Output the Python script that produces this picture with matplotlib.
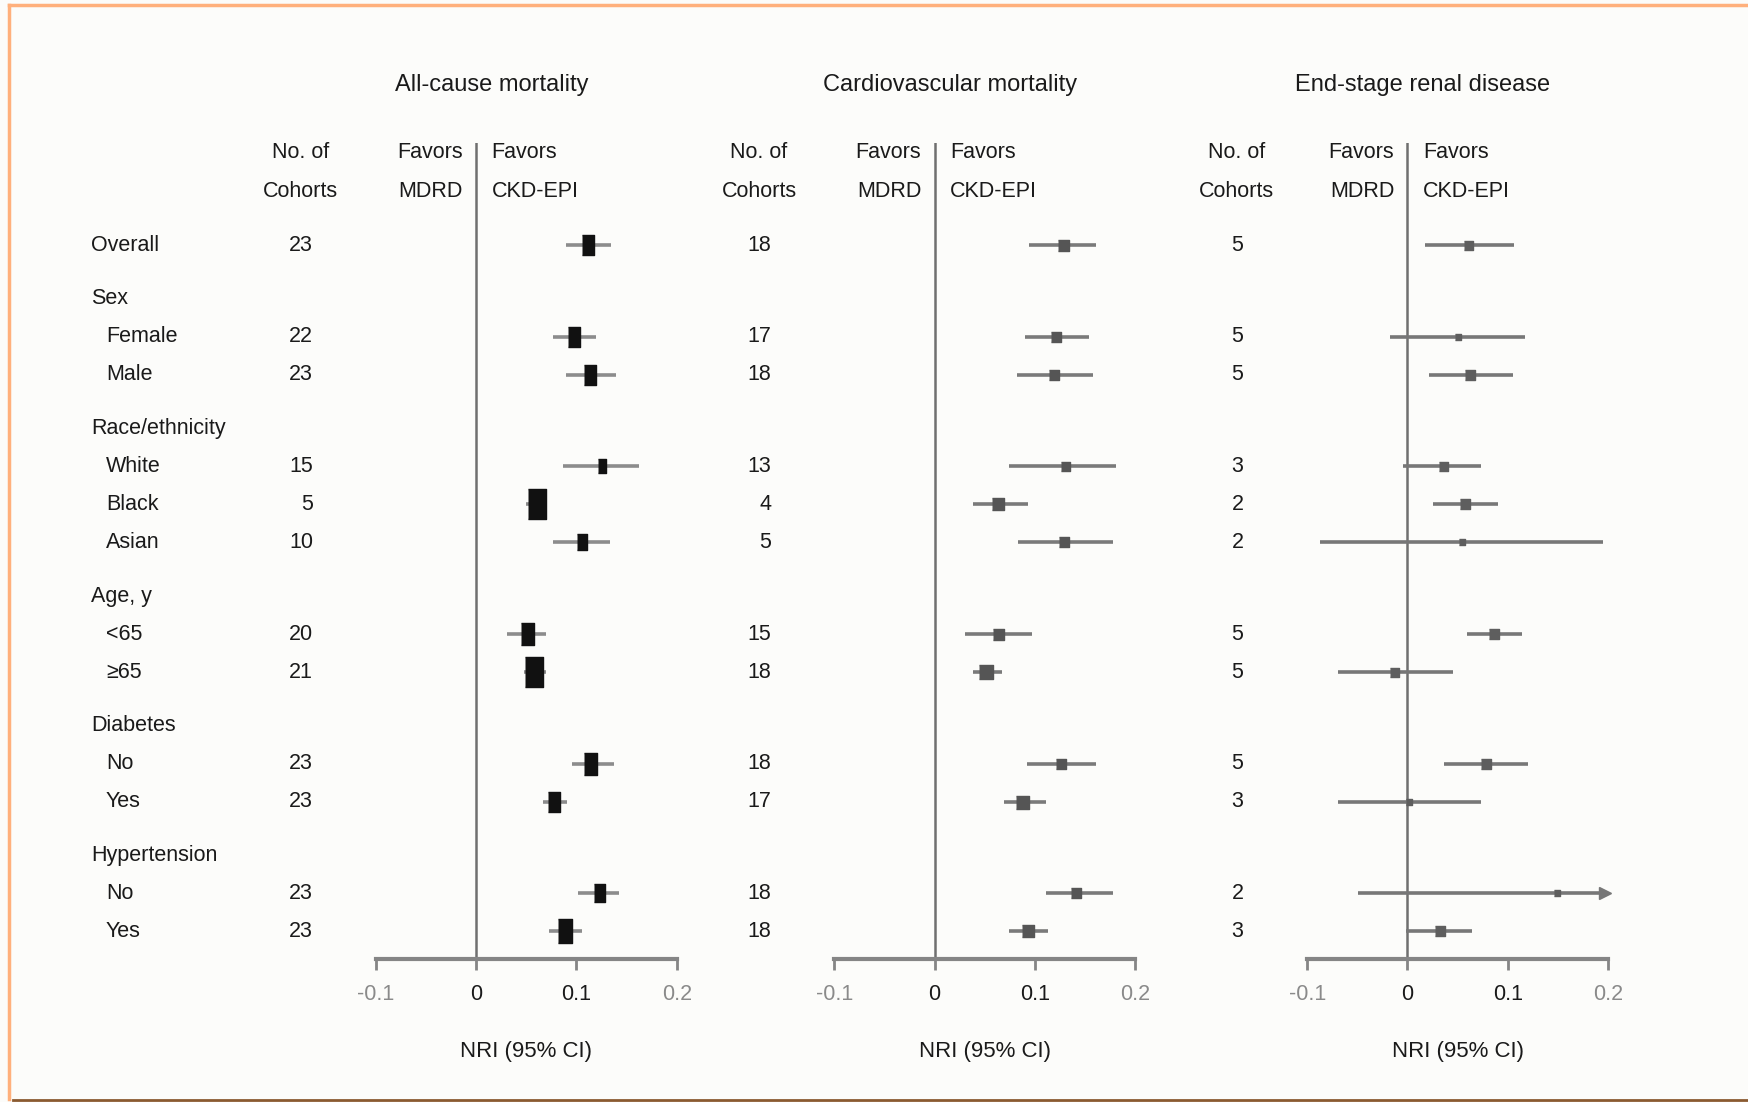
"""
Forest plot: NRI of CKD-EPI vs MDRD by subgroup, three outcomes.
"""

import matplotlib
matplotlib.use('Agg')
import matplotlib.pyplot as plt
from matplotlib.transforms import blended_transform_factory
from matplotlib.lines import Line2D

plt.rcParams.update({
    'font.family': ['Liberation Sans', 'DejaVu Sans'],
    'font.size': 15.5,
})

# ---- data ----
row_labels = ['Overall', 'Female', 'Male', 'White', 'Black', 'Asian',
              '<65', '\u226565', 'No', 'Yes', 'No', 'Yes']
row_groups = [None, 'Sex', 'Sex', 'Race/ethnicity', 'Race/ethnicity', 'Race/ethnicity',
              'Age, y', 'Age, y', 'Diabetes', 'Diabetes', 'Hypertension', 'Hypertension']

outcomes = ['All-cause mortality', 'Cardiovascular mortality', 'End-stage renal disease']

acm_cohorts = [23, 22, 23, 15, 5, 10, 20, 21, 23, 23, 23, 23]
acm_nri = [0.112, 0.098, 0.114, 0.126, 0.061, 0.106, 0.051, 0.058, 0.114, 0.078, 0.123, 0.089]
acm_lo = [0.090, 0.077, 0.090, 0.087, 0.050, 0.077, 0.031, 0.048, 0.096, 0.067, 0.102, 0.073]
acm_hi = [0.134, 0.120, 0.139, 0.162, 0.071, 0.133, 0.070, 0.070, 0.137, 0.091, 0.142, 0.106]
acm_weight = [12, 12, 12, 9, 18, 10, 13, 18, 13, 12, 11, 14]

cvd_cohorts = [18, 17, 18, 13, 4, 5, 15, 18, 18, 17, 18, 18]
cvd_nri = [0.128, 0.121, 0.119, 0.130, 0.063, 0.129, 0.063, 0.051, 0.126, 0.087, 0.141, 0.093]
cvd_lo = [0.094, 0.090, 0.082, 0.074, 0.038, 0.083, 0.030, 0.038, 0.092, 0.069, 0.111, 0.074]
cvd_hi = [0.161, 0.154, 0.158, 0.181, 0.093, 0.178, 0.097, 0.067, 0.161, 0.111, 0.178, 0.113]
cvd_weight = [11, 10, 10, 9, 12, 10, 11, 14, 10, 13, 10, 12]

esrd_cohorts = [5, 5, 5, 3, 2, 2, 5, 5, 5, 3, 2, 3]
esrd_nri = [0.060, 0.050, 0.062, 0.035, 0.057, 0.054, 0.086, -0.013, 0.078, 0.002, 0.149, 0.032]
esrd_lo = [0.017, -0.017, 0.021, -0.004, 0.025, -0.087, 0.059, -0.069, 0.036, -0.069, -0.049, -0.001]
esrd_hi = [0.106, 0.117, 0.105, 0.073, 0.090, 0.195, 0.114, 0.045, 0.120, 0.073, 0.200, 0.064]
esrd_weight = [9, 6, 10, 9, 10, 6, 10, 9, 10, 6, 6, 10]

xticks = [-0.1, 0, 0.1, 0.2]
xtick_labels = ['-0.1', '0', '0.1', '0.2']

# ---- row positions (header rows get an extra gap) ----
row_y, header_y = [], []
y, prev = None, None
for g in row_groups:
    if y is None:
        y = 0.0
    elif g != prev:
        y += 1.41
        header_y.append((g, y))
        y += 1.0
    else:
        y += 1.0
    row_y.append(y)
    prev = g

TXT = '#1a1a1a'
fig = plt.figure(figsize=(17.49, 11.02), dpi=100, facecolor='#fcfcfa')

panels = [
    (acm_cohorts, acm_nri, acm_lo, acm_hi, acm_weight, 0.2149, 0.172, 0.179, 1.65, '#111111', '#8c8c8c'),
    (cvd_cohorts, cvd_nri, cvd_lo, cvd_hi, cvd_weight, 0.4770, 0.434, 0.441, 1.0, '#555555', '#7a7a7a'),
    (esrd_cohorts, esrd_nri, esrd_lo, esrd_hi, esrd_weight, 0.7474, 0.707, 0.711, 1.0, '#5e5e5e', '#777777'),
]

for i, (coh, est, lo, hi, wt, left, hdr_x, num_x, aspect, mcol, lcol) in enumerate(panels):
    ax = fig.add_axes([left, 0.1298, 0.1720, 0.7404])
    ax.set_facecolor('none')
    ax.set_xlim(-0.1, 0.2)
    ax.set_ylim(18.78, -2.69)

    ax.axvline(0, color='#6f6f6f', lw=1.8, zorder=1)

    marker = [(-1, -aspect), (1, -aspect), (1, aspect), (-1, aspect)]
    for yy, e, l, h, w in zip(row_y, est, lo, hi, wt):
        ax.plot([l, h], [yy, yy], color=lcol, lw=2.6, solid_capstyle='butt', zorder=2)
        ax.plot(e, yy, marker=marker, ms=w * 0.72 * aspect, color=mcol, mec=mcol, zorder=3)
        if h >= 0.2:
            ax.plot(0.197, yy, marker='>', ms=9, color=lcol, clip_on=False, zorder=3)

    for s in ['top', 'right', 'left']:
        ax.spines[s].set_visible(False)
    ax.spines['bottom'].set_color('#858585')
    ax.spines['bottom'].set_linewidth(3)
    ax.set_yticks([])
    ax.set_xticks(xticks)
    ax.set_xticklabels(xtick_labels)
    ax.tick_params(axis='x', direction='out', length=8, width=2, color='#858585', pad=10, labelsize=15.5)
    for lab, c in zip(ax.get_xticklabels(), ['#8a8a8a', TXT, TXT, '#8a8a8a']):
        lab.set_color(c)
    ax.set_xlabel('NRI (95% CI)', labelpad=26, fontsize=16, color=TXT)

    # header texts
    fig.text(left + 0.066, 0.923, outcomes[i], ha='center', va='center', fontsize=17, color=TXT)
    ax.text(-0.0133, -2.44, 'Favors', ha='right', va='center', color=TXT)
    ax.text(-0.0133, -1.41, 'MDRD', ha='right', va='center', color=TXT)
    ax.text(0.0155, -2.44, 'Favors', ha='left', va='center', color=TXT)
    ax.text(0.0155, -1.41, 'CKD-EPI', ha='left', va='center', color=TXT)

    trans = blended_transform_factory(fig.transFigure, ax.transData)
    ax.text(hdr_x, -2.44, 'No. of', ha='center', va='center', transform=trans, color=TXT)
    ax.text(hdr_x, -1.41, 'Cohorts', ha='center', va='center', transform=trans, color=TXT)
    for yy, n in zip(row_y, coh):
        ax.text(num_x, yy, str(n), ha='right', va='center', transform=trans, color=TXT)

    if i == 0:
        for yy, lab, g in zip(row_y, row_labels, row_groups):
            x = 0.0523 if g is None else 0.0606
            ax.text(x, yy, lab, ha='left', va='center', transform=trans, color=TXT)
        for g, yy in header_y:
            ax.text(0.0523, yy, g, ha='left', va='center', transform=trans, color=TXT)

# scan frame
fig.add_artist(Line2D([0.0051, 1.0], [0.9955, 0.9955], color='#ffb07c', lw=2.5))
fig.add_artist(Line2D([0.0051, 0.0051], [0.9955, 0.003], color='#ffb07c', lw=2.5))
fig.add_artist(Line2D([0.0075, 1.0], [0.0018, 0.0018], color='#8a5a30', lw=2))

fig.savefig('out.png', dpi=100, facecolor=fig.get_facecolor())
plt.close(fig)
